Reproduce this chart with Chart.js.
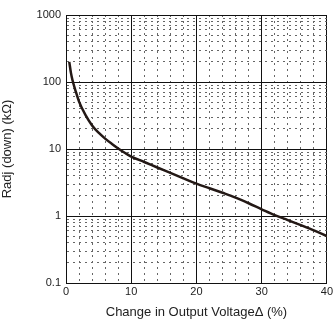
<!DOCTYPE html>
<html>
<head>
<meta charset="utf-8">
<script src="https://cdn.jsdelivr.net/npm/chart.js@4.4.0/dist/chart.umd.min.js"></script>
<style>
  html, body { margin: 0; padding: 0; background: #fff; }
  #wrap { width: 335px; height: 320px; }
</style>
</head>
<body>
<div id="wrap"><canvas id="chart" width="335" height="320"></canvas></div>
<script>
// Curve
const voltageChange = [0.5, 0.75, 1, 1.5, 2, 3, 4, 5, 6, 7, 8, 9, 10, 12, 14, 16, 18, 20, 22, 24, 26, 28, 30, 32, 34, 36, 38, 40];
const radjDown = [200, 138, 106, 72, 51, 32, 22.5, 17.5, 14.3, 12, 10.2, 8.8, 7.7, 6.4, 5.3, 4.4, 3.65, 3.05, 2.6, 2.22, 1.88, 1.55, 1.26, 1.03, 0.87, 0.73, 0.61, 0.5];

// Tick values
const xTicks = [0, 2, 4, 6, 8, 10, 12, 14, 16, 18, 20, 22, 24, 26, 28, 30, 32, 34, 36, 38, 40];
const yDecades = [0.1, 1, 10, 100];
const ySteps = [1, 2, 3, 4, 5, 6, 7, 8, 9];

const yTicks = [];
yDecades.forEach(d => ySteps.forEach(s => yTicks.push(+(d * s).toPrecision(3))));
yTicks.push(1000);

const isDecade = v => Math.abs(Math.log10(v) - Math.round(Math.log10(v))) < 1e-6;
const isTen = v => v % 10 === 0;

const ink = '#231815';

let ctx = document.getElementById('chart').getContext('2d');
let chart = new Chart(ctx, {
    type: 'scatter',
    data: {
        datasets: [{
            data: voltageChange.map((x, i) => ({ x: x, y: radjDown[i] })),
            showLine: true,
            borderColor: ink,
            borderWidth: 2.5,
            pointRadius: 0,
            cubicInterpolationMode: 'monotone'
        }]
    },
    options: {
        responsive: false,
        animation: false,
        layout: { padding: { left: 0, right: 5, top: 15, bottom: 0 } },
        plugins: { legend: { display: false }, tooltip: { enabled: false } },
        scales: {
            x: {
                type: 'linear',
                min: 0,
                max: 40,
                afterBuildTicks: scale => { scale.ticks = xTicks.map(v => ({ value: v })); },
                afterFit: scale => { scale.height = 37; },
                ticks: {
                    autoSkip: false,
                    maxRotation: 0,
                    padding: 2,
                    color: '#222',
                    font: { family: 'Liberation Sans', size: 11 },
                    callback: v => isTen(v) ? String(v) : ''
                },
                grid: {
                    drawTicks: false,
                    color: c => (c.tick && isTen(c.tick.value)) ? '#111' : '#666',
                    lineWidth: 1
                },
                border: {
                    color: '#111',
                    width: 1,
                    dash: c => (c.tick && !isTen(c.tick.value)) ? [2, 4] : []
                },
                title: {
                    display: true,
                    text: 'Change in Output VoltageΔ (%)',
                    color: '#222',
                    font: { family: 'Liberation Sans', size: 13 },
                    padding: { top: 2, bottom: 0 }
                }
            },
            y: {
                type: 'logarithmic',
                min: 0.1,
                max: 1000,
                afterBuildTicks: scale => { scale.ticks = yTicks.map(v => ({ value: v })); },
                afterFit: scale => { scale.width = 66; },
                ticks: {
                    autoSkip: false,
                    padding: 5,
                    color: '#222',
                    font: { family: 'Liberation Sans', size: 11 },
                    callback: v => isDecade(v) ? String(v) : ''
                },
                grid: {
                    drawTicks: false,
                    color: c => (c.tick && isDecade(c.tick.value)) ? '#111' : '#666',
                    lineWidth: 1
                },
                border: {
                    color: '#111',
                    width: 1,
                    dash: c => (c.tick && !isDecade(c.tick.value)) ? [2, 4] : []
                },
                title: {
                    display: true,
                    text: 'Radj (down) (kΩ)',
                    color: '#222',
                    font: { family: 'Liberation Sans', size: 13 },
                    padding: { top: 0, bottom: 4 }
                }
            }
        }
    }
});
</script>
</body>
</html>
